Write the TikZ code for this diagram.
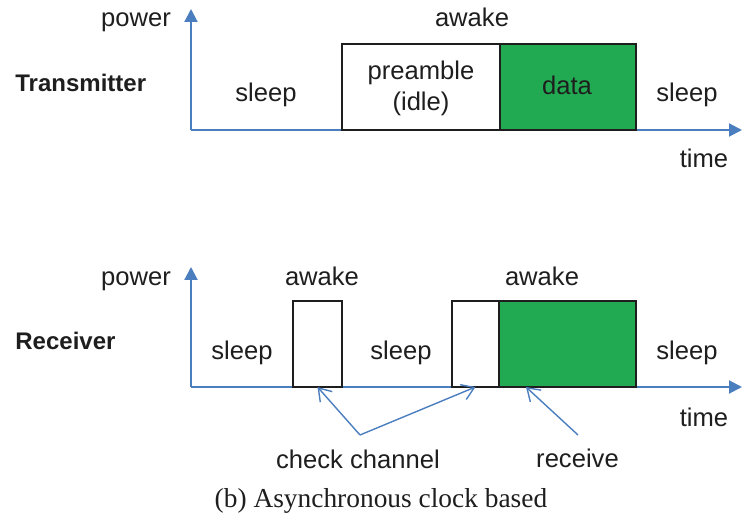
\documentclass[tikz,border=0pt]{standalone}
\usepackage{fontspec}
\setmainfont{Liberation Sans}
\newfontfamily\capfont{Liberation Serif}
\usetikzlibrary{arrows.meta,calc}
\definecolor{axisblue}{RGB}{74,126,190}
\definecolor{datagreen}{RGB}{34,170,82}
\definecolor{ink}{RGB}{30,30,30}

\begin{document}
\begin{tikzpicture}[x=0.5pt,y=-0.5pt,
  lbl/.style={font=\fontsize{12.8}{15}\selectfont, text=ink, inner sep=0, anchor=base},
  role/.style={font=\bfseries\fontsize{12}{14}\selectfont, text=ink, inner sep=0, anchor=base west},
  axis/.style={draw=axisblue, line width=1pt, -{Triangle[length=6.5pt,width=6.5pt]}},
  callout/.style={draw=axisblue, line width=0.7pt, -{Straight Barb[length=6pt,width=8pt]}},
  slot/.style={draw=ink, line width=1pt, inner sep=0, outer sep=0, minimum height=43pt},
]
\useasboundingbox (0,0) rectangle (746,518);

% ---------- transmitter ----------
\coordinate (t0) at (191,130);
\coordinate (tY) at (191,9);
\coordinate (tX) at (742,130);
\draw[axis] (t0) -- (tY);
\draw[axis] (t0) -- (tX);

\node[slot, minimum width=79pt, fill=white] (pre) at (421,87.5) {};
\node[slot, minimum width=68pt, fill=datagreen] (dat) at (568,87.5) {};

\node[lbl] (tpow) at (136,27) {power};
\node[role] (tx) at (15,92) {Transmitter};
\node[lbl] (ts1) at (266,102) {sleep};
\node[lbl] (tawk) at (472,27) {awake};
\node[lbl] (tpre1) at (421,80) {preamble};
\node[lbl] (tpre2) at (421,111) {(idle)};
\node[lbl] (tdat) at (567,95) {data};
\node[lbl] (ts2) at (687,102) {sleep};
\node[lbl] (ttime) at (704,168) {time};

% ---------- receiver ----------
\coordinate (r0) at (191,387);
\coordinate (rY) at (191,267);
\coordinate (rX) at (742,387);
\draw[axis] (r0) -- (rY);
\draw[axis] (r0) -- (rX);

\node[slot, minimum width=24.5pt, fill=white] (chk) at (317.5,344) {};
\node[slot, minimum width=23.5pt, fill=white] (lsn) at (475.5,344) {};
\node[slot, minimum width=68.5pt, fill=datagreen] (rcv) at (567.5,344) {};

\node[lbl] (rpow) at (136,286) {power};
\node[role] (rx) at (15,350) {Receiver};
\node[lbl] (rawk1) at (322,286) {awake};
\node[lbl] (rawk2) at (542,286) {awake};
\node[lbl] (rs1) at (242,360) {sleep};
\node[lbl] (rs2) at (401,360) {sleep};
\node[lbl] (rs3) at (687,360) {sleep};
\node[lbl] (rtime) at (704,427) {time};

% ---------- callouts ----------
\coordinate (cc) at (360,435);
\coordinate (rc) at (578,435);
\draw[callout] (cc) -- (chk.south);
\draw[callout] (cc) -- (lsn.south);
\draw[callout] (rc) -- ([xshift=13.5pt]rcv.south west);
\node[lbl] (cclbl) at (358,469) {check channel};
\node[lbl] (rclbl) at (577.5,468) {receive};

% ---------- caption ----------
\node[inner sep=0, anchor=base, text=ink, font=\capfont\fontsize{13.7}{16}\selectfont] (cap) at (381,508) {(b) Asynchronous clock based};
\end{tikzpicture}
\end{document}
